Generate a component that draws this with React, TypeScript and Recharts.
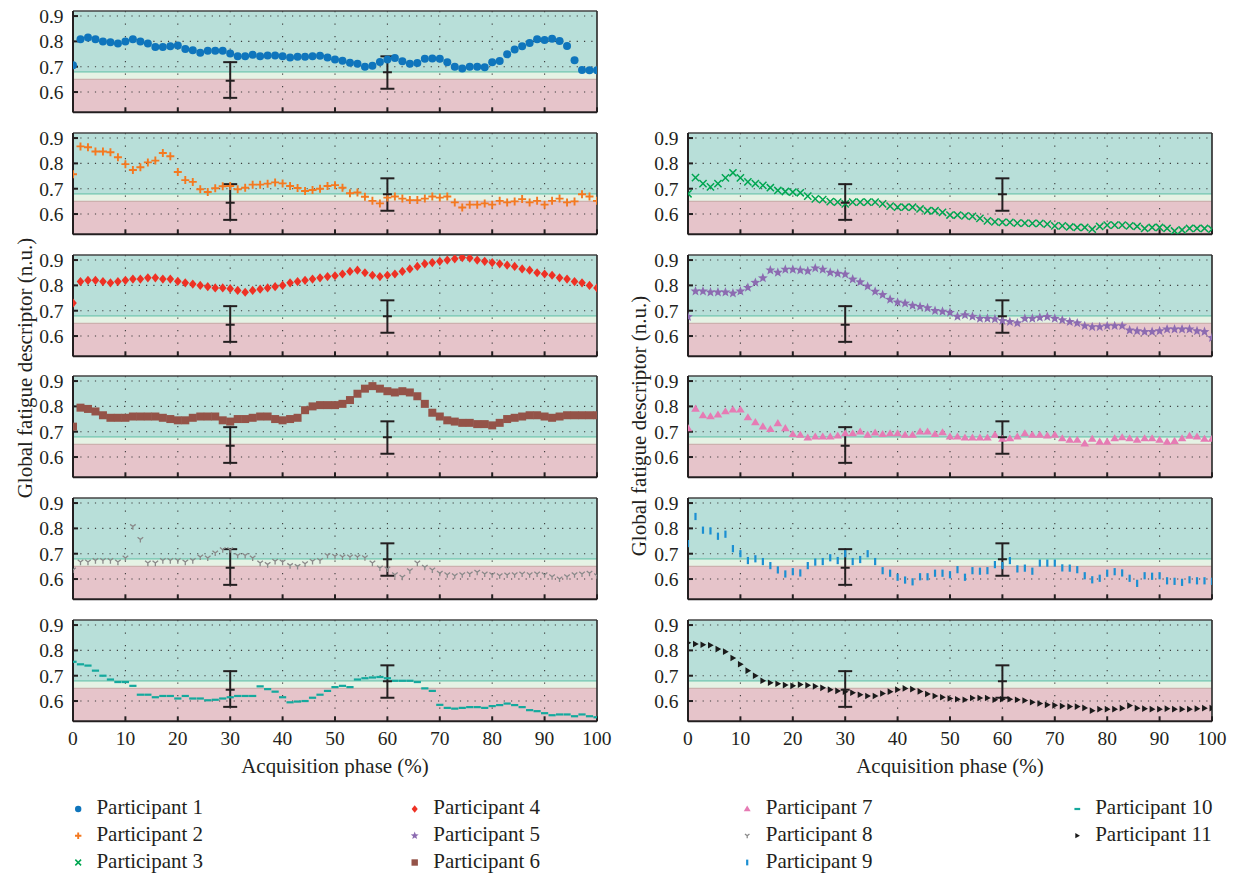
import React from 'react';
import { ComposedChart, Scatter, XAxis, YAxis, ReferenceArea, ReferenceLine, ErrorBar } from 'recharts';

// ---------- data ----------
const PHASE = Array.from({ length: 71 }, (_, i) => (i * 100) / 70);
const X_TICKS = [0, 10, 20, 30, 40, 50, 60, 70, 80, 90, 100];
const Y_TICKS = [0.6, 0.7, 0.8, 0.9];
const Y_DOMAIN = [0.52, 0.92];
const GRID_X = [10, 20, 30, 40, 50, 60, 70, 80, 90];
const BAND_HIGH = 0.68;
const BAND_LOW = 0.65;

const ERR_X = [30, 60];
const ERR_LOW = [0.577, 0.613];
const ERR_MID = [0.645, 0.678];
const ERR_HIGH = [0.718, 0.741];

const P1 = [0.706, 0.808, 0.815, 0.808, 0.80, 0.797, 0.792, 0.80, 0.808, 0.80, 0.792, 0.778, 0.778, 0.781, 0.784, 0.77, 0.765, 0.755, 0.763, 0.763, 0.763, 0.752, 0.741, 0.741, 0.747, 0.741, 0.744, 0.744, 0.741, 0.736, 0.739, 0.739, 0.741, 0.743, 0.736, 0.728, 0.724, 0.716, 0.712, 0.70, 0.704, 0.719, 0.728, 0.734, 0.722, 0.712, 0.715, 0.731, 0.732, 0.731, 0.718, 0.70, 0.693, 0.70, 0.70, 0.698, 0.718, 0.723, 0.749, 0.768, 0.781, 0.794, 0.808, 0.805, 0.81, 0.802, 0.782, 0.726, 0.687, 0.686, 0.686];
const P2 = [0.757, 0.867, 0.864, 0.847, 0.847, 0.844, 0.824, 0.797, 0.774, 0.785, 0.804, 0.811, 0.841, 0.828, 0.766, 0.734, 0.727, 0.698, 0.687, 0.702, 0.71, 0.711, 0.698, 0.704, 0.716, 0.716, 0.72, 0.725, 0.721, 0.711, 0.703, 0.691, 0.695, 0.70, 0.711, 0.714, 0.704, 0.682, 0.685, 0.668, 0.652, 0.642, 0.665, 0.669, 0.661, 0.655, 0.655, 0.661, 0.669, 0.665, 0.669, 0.646, 0.626, 0.637, 0.637, 0.642, 0.637, 0.652, 0.646, 0.65, 0.659, 0.646, 0.652, 0.637, 0.652, 0.661, 0.646, 0.65, 0.678, 0.669, 0.652];
const P3 = [0.68, 0.744, 0.72, 0.707, 0.72, 0.743, 0.763, 0.743, 0.727, 0.72, 0.713, 0.704, 0.693, 0.689, 0.687, 0.684, 0.671, 0.66, 0.657, 0.649, 0.647, 0.64, 0.647, 0.647, 0.647, 0.647, 0.64, 0.631, 0.627, 0.627, 0.627, 0.62, 0.613, 0.613, 0.607, 0.596, 0.596, 0.593, 0.591, 0.583, 0.573, 0.569, 0.567, 0.567, 0.564, 0.564, 0.563, 0.563, 0.56, 0.553, 0.553, 0.549, 0.547, 0.547, 0.54, 0.551, 0.556, 0.556, 0.556, 0.553, 0.551, 0.543, 0.547, 0.547, 0.543, 0.533, 0.537, 0.543, 0.543, 0.543, 0.54];
const P4 = [0.73, 0.815, 0.82, 0.82, 0.815, 0.81, 0.815, 0.82, 0.825, 0.825, 0.83, 0.83, 0.825, 0.825, 0.816, 0.81, 0.805, 0.80, 0.795, 0.79, 0.79, 0.787, 0.78, 0.773, 0.78, 0.785, 0.79, 0.795, 0.80, 0.81, 0.815, 0.82, 0.825, 0.83, 0.835, 0.838, 0.845, 0.855, 0.86, 0.85, 0.84, 0.835, 0.84, 0.845, 0.855, 0.865, 0.875, 0.885, 0.89, 0.895, 0.90, 0.905, 0.91, 0.908, 0.90, 0.895, 0.89, 0.885, 0.88, 0.875, 0.865, 0.86, 0.85, 0.845, 0.84, 0.83, 0.825, 0.815, 0.81, 0.80, 0.79];
const P5 = [0.676, 0.777, 0.777, 0.773, 0.773, 0.773, 0.769, 0.777, 0.791, 0.811, 0.829, 0.86, 0.851, 0.863, 0.863, 0.86, 0.857, 0.868, 0.863, 0.851, 0.847, 0.844, 0.824, 0.813, 0.796, 0.776, 0.763, 0.744, 0.733, 0.729, 0.72, 0.716, 0.711, 0.70, 0.697, 0.693, 0.677, 0.683, 0.677, 0.669, 0.669, 0.667, 0.66, 0.656, 0.651, 0.669, 0.669, 0.673, 0.676, 0.669, 0.663, 0.656, 0.651, 0.64, 0.636, 0.636, 0.64, 0.64, 0.64, 0.623, 0.62, 0.617, 0.617, 0.62, 0.627, 0.627, 0.627, 0.627, 0.62, 0.617, 0.593];
const P6 = [0.72, 0.795, 0.79, 0.78, 0.765, 0.755, 0.755, 0.755, 0.76, 0.76, 0.76, 0.76, 0.755, 0.75, 0.745, 0.745, 0.755, 0.76, 0.76, 0.76, 0.745, 0.74, 0.75, 0.75, 0.755, 0.76, 0.76, 0.75, 0.745, 0.75, 0.755, 0.785, 0.80, 0.805, 0.805, 0.805, 0.81, 0.825, 0.85, 0.87, 0.88, 0.87, 0.86, 0.855, 0.86, 0.855, 0.84, 0.81, 0.775, 0.76, 0.745, 0.74, 0.735, 0.735, 0.73, 0.73, 0.725, 0.735, 0.75, 0.755, 0.76, 0.765, 0.765, 0.76, 0.755, 0.76, 0.765, 0.765, 0.765, 0.765, 0.765];
const P7 = [0.713, 0.79, 0.764, 0.76, 0.767, 0.78, 0.787, 0.787, 0.756, 0.737, 0.72, 0.71, 0.733, 0.713, 0.69, 0.687, 0.676, 0.68, 0.68, 0.68, 0.684, 0.693, 0.693, 0.70, 0.687, 0.696, 0.69, 0.693, 0.693, 0.687, 0.687, 0.70, 0.70, 0.69, 0.697, 0.68, 0.68, 0.676, 0.676, 0.676, 0.676, 0.687, 0.671, 0.673, 0.68, 0.693, 0.687, 0.687, 0.684, 0.687, 0.673, 0.667, 0.667, 0.653, 0.671, 0.66, 0.66, 0.673, 0.677, 0.673, 0.667, 0.673, 0.673, 0.667, 0.66, 0.663, 0.673, 0.683, 0.68, 0.671, 0.671];
const P8 = [0.636, 0.667, 0.667, 0.673, 0.673, 0.673, 0.667, 0.683, 0.807, 0.756, 0.663, 0.663, 0.673, 0.673, 0.673, 0.667, 0.673, 0.687, 0.683, 0.703, 0.716, 0.716, 0.693, 0.693, 0.683, 0.663, 0.657, 0.67, 0.667, 0.653, 0.65, 0.66, 0.67, 0.673, 0.693, 0.69, 0.687, 0.687, 0.687, 0.684, 0.663, 0.644, 0.64, 0.617, 0.607, 0.633, 0.663, 0.647, 0.636, 0.623, 0.617, 0.613, 0.617, 0.62, 0.627, 0.62, 0.617, 0.613, 0.616, 0.617, 0.62, 0.617, 0.62, 0.617, 0.609, 0.60, 0.609, 0.617, 0.62, 0.623, 0.613];
const P9 = [0.74, 0.847, 0.793, 0.79, 0.769, 0.777, 0.72, 0.70, 0.673, 0.68, 0.669, 0.653, 0.636, 0.62, 0.629, 0.624, 0.653, 0.667, 0.669, 0.684, 0.673, 0.70, 0.669, 0.677, 0.70, 0.669, 0.633, 0.623, 0.607, 0.596, 0.589, 0.609, 0.609, 0.623, 0.623, 0.617, 0.637, 0.607, 0.633, 0.631, 0.633, 0.657, 0.653, 0.673, 0.64, 0.643, 0.631, 0.663, 0.663, 0.663, 0.644, 0.643, 0.637, 0.613, 0.597, 0.603, 0.623, 0.629, 0.624, 0.603, 0.583, 0.613, 0.611, 0.613, 0.593, 0.591, 0.587, 0.597, 0.593, 0.593, 0.591];
const P10 = [0.755, 0.745, 0.74, 0.72, 0.70, 0.685, 0.675, 0.675, 0.66, 0.625, 0.625, 0.615, 0.62, 0.62, 0.61, 0.62, 0.61, 0.61, 0.603, 0.605, 0.61, 0.615, 0.62, 0.62, 0.62, 0.658, 0.647, 0.637, 0.615, 0.595, 0.598, 0.60, 0.613, 0.625, 0.64, 0.655, 0.66, 0.655, 0.685, 0.69, 0.693, 0.695, 0.69, 0.68, 0.68, 0.68, 0.675, 0.65, 0.64, 0.585, 0.573, 0.57, 0.573, 0.576, 0.576, 0.573, 0.58, 0.584, 0.59, 0.584, 0.576, 0.564, 0.56, 0.552, 0.544, 0.547, 0.547, 0.54, 0.547, 0.54, 0.536];
const P11 = [0.83, 0.825, 0.822, 0.82, 0.805, 0.795, 0.77, 0.745, 0.72, 0.70, 0.68, 0.672, 0.668, 0.663, 0.66, 0.665, 0.662, 0.658, 0.652, 0.645, 0.64, 0.637, 0.633, 0.625, 0.62, 0.62, 0.63, 0.637, 0.645, 0.65, 0.647, 0.638, 0.628, 0.62, 0.615, 0.61, 0.607, 0.605, 0.612, 0.612, 0.612, 0.605, 0.607, 0.607, 0.605, 0.602, 0.595, 0.59, 0.585, 0.583, 0.58, 0.578, 0.578, 0.573, 0.562, 0.568, 0.568, 0.568, 0.572, 0.582, 0.572, 0.57, 0.568, 0.568, 0.57, 0.568, 0.568, 0.568, 0.57, 0.572, 0.572];

const NAMES = ['Participant 1', 'Participant 2', 'Participant 3', 'Participant 4', 'Participant 5', 'Participant 6', 'Participant 7', 'Participant 8', 'Participant 9', 'Participant 10', 'Participant 11'];
const VALUES = [P1, P2, P3, P4, P5, P6, P7, P8, P9, P10, P11];
const KINDS = ['circle', 'plus', 'x', 'diamond', 'star', 'square', 'triUp', 'triY', 'vbar', 'hbar', 'triRight'];
const COLORS = ['#0f75bc', '#f47920', '#00a651', '#ee3124', '#8c6bb1', '#945348', '#e67bb4', '#8a8a8a', '#1b8fd2', '#14a99d', '#1a1a1a'];
// panel placement: [column, row]
const PLACE: [number, number][] = [[0, 0], [0, 1], [1, 1], [0, 2], [1, 2], [0, 3], [1, 3], [0, 4], [1, 4], [0, 5], [1, 5]];

// ---------- style ----------
const FONT = 'Liberation Serif, DejaVu Serif, Noto Serif, serif';
const INK = '#231f20';
const TEAL = '#b8dfd9';
const LIGHT = '#e5f2e4';
const PINK = '#e6c4ca';

const PLOT_W = 524;
const PLOT_H = 101.3;
const Y_W = 60;
const MT = 4;
const MR = 22;
const COL_LEFT = [72.7, 688.3];
const ROW_TOP0 = 10.7;
const ROW_STEP = 121.9;

type MarkerProps = { kind: string; color: string; cx: number; cy: number; k?: number };

function Marker({ kind, color, cx, cy, k = 1 }: MarkerProps) {
  if (cx == null || cy == null || isNaN(cx) || isNaN(cy)) return <g />;
  switch (kind) {
    case 'circle':
      return <circle cx={cx} cy={cy} r={4 * k} fill={color} />;
    case 'plus': {
      const a = 4 * k;
      return <path d={`M${cx - a},${cy}H${cx + a}M${cx},${cy - a}V${cy + a}`} stroke={color} strokeWidth={1.9} fill="none" />;
    }
    case 'x': {
      const a = 3.6 * k;
      return <path d={`M${cx - a},${cy - a}L${cx + a},${cy + a}M${cx - a},${cy + a}L${cx + a},${cy - a}`} stroke={color} strokeWidth={1.5} fill="none" />;
    }
    case 'diamond': {
      const a = 3.8 * k, b = 4.6 * k;
      return <polygon points={`${cx},${cy - b} ${cx + a},${cy} ${cx},${cy + b} ${cx - a},${cy}`} fill={color} />;
    }
    case 'star': {
      const pts: string[] = [];
      for (let j = 0; j < 10; j++) {
        const r = (j % 2 === 0 ? 5.2 : 2.2) * k;
        const ang = -Math.PI / 2 + (j * Math.PI) / 5;
        pts.push(`${cx + r * Math.cos(ang)},${cy + r * Math.sin(ang)}`);
      }
      return <polygon points={pts.join(' ')} fill={color} />;
    }
    case 'square': {
      const a = 4 * k;
      return <rect x={cx - a} y={cy - a} width={2 * a} height={2 * a} fill={color} />;
    }
    case 'triUp': {
      const a = 4.3 * k;
      return <polygon points={`${cx},${cy - a} ${cx + a},${cy + 0.65 * a} ${cx - a},${cy + 0.65 * a}`} fill={color} />;
    }
    case 'triY': {
      const a = 2.8 * k;
      return <path d={`M${cx},${cy}V${cy + a * 1.1}M${cx},${cy}L${cx - a},${cy - a * 0.8}M${cx},${cy}L${cx + a},${cy - a * 0.8}`} stroke={color} strokeWidth={1.3} fill="none" />;
    }
    case 'vbar':
      return <rect x={cx - 1.1} y={cy - 3.6 * k} width={2.2} height={7.2 * k} fill={color} />;
    case 'hbar':
      return <rect x={cx - 3.6 * k} y={cy - 1.1} width={7.2 * k} height={2.2} fill={color} />;
    case 'triRight': {
      const a = 3.3 * k;
      return <polygon points={`${cx + a},${cy} ${cx - 0.75 * a},${cy - a} ${cx - 0.75 * a},${cy + a}`} fill={color} />;
    }
    default:
      return <g />;
  }
}

const ERR_DATA = ERR_X.map((x, i) => ({ x, y: ERR_MID[i], err: [ERR_MID[i] - ERR_LOW[i], ERR_HIGH[i] - ERR_MID[i]] }));

function MidTick(p: any) {
  if (p.cx == null || p.cy == null) return <g />;
  return <line x1={p.cx - 4.5} x2={p.cx + 4.5} y1={p.cy} y2={p.cy} stroke={INK} strokeWidth={2} />;
}

function Panel({ idx }: { idx: number }) {
  const [col, row] = PLACE[idx];
  const bottomRow = row === 5;
  const data = PHASE.map((x, i) => ({ x, y: VALUES[idx][i] }));
  const xH = bottomRow ? 56 : 3;
  const width = Y_W + PLOT_W + MR;
  const height = MT + PLOT_H + xH;
  const left = COL_LEFT[col] - Y_W - 8;
  const top = ROW_TOP0 + ROW_STEP * row - MT - 8;
  const kind = KINDS[idx];
  const color = COLORS[idx];
  return (
    <div style={{ position: 'absolute', left, top, width, height }}>
      <ComposedChart width={width} height={height} margin={{ top: MT, right: MR, bottom: 0, left: 0 }}>
        <XAxis
          type="number"
          dataKey="x"
          domain={[0, 100]}
          ticks={X_TICKS}
          interval={0}
          allowDataOverflow
          height={xH}
          tickSize={-5}
          tickMargin={14.5}
          axisLine={{ stroke: INK, strokeWidth: 2 }}
          tickLine={{ stroke: INK, strokeWidth: 2 }}
          tick={bottomRow ? { fontSize: 19.5, fontFamily: FONT, fill: INK } : () => <g />}
          label={bottomRow ? { value: 'Acquisition phase (%)', position: 'insideBottom', offset: 4, fontSize: 21, fontFamily: FONT, fill: INK } : undefined}
        />
        <YAxis
          type="number"
          dataKey="y"
          domain={Y_DOMAIN}
          ticks={Y_TICKS}
          interval={0}
          allowDataOverflow
          width={Y_W}
          tickSize={-5}
          tickMargin={14.5}
          tickFormatter={(v: number) => v.toFixed(1)}
          axisLine={{ stroke: INK, strokeWidth: 2 }}
          tickLine={{ stroke: INK, strokeWidth: 2 }}
          tick={{ fontSize: 19.5, fontFamily: FONT, fill: INK }}
        />
        <ReferenceArea y1={BAND_HIGH} y2={Y_DOMAIN[1]} fill={TEAL} fillOpacity={1} stroke="none" />
        <ReferenceArea y1={BAND_LOW} y2={BAND_HIGH} fill={LIGHT} fillOpacity={1} stroke="none" />
        <ReferenceArea y1={Y_DOMAIN[0]} y2={BAND_LOW} fill={PINK} fillOpacity={1} stroke="none" />
        <ReferenceLine y={BAND_HIGH} stroke="#6cc3ae" strokeWidth={1.3} />
        <ReferenceLine y={BAND_LOW} stroke="#cdb0ae" strokeWidth={1.3} />
        {Y_TICKS.map((v) => (
          <ReferenceLine key={'gy' + v} y={v} stroke="#3c3c3c" strokeWidth={1.1} strokeDasharray="1.2 6.1" />
        ))}
        {GRID_X.map((v) => (
          <ReferenceLine key={'gx' + v} x={v} stroke="#3c3c3c" strokeWidth={1.1} strokeDasharray="1.2 11.3" />
        ))}
        <ReferenceLine y={Y_DOMAIN[1]} stroke="#444" strokeWidth={1.7} />
        <ReferenceLine x={100} stroke="#333" strokeWidth={1.7} />
        <Scatter
          name={NAMES[idx]}
          data={data}
          isAnimationActive={false}
          shape={(p: any) => <Marker kind={kind} color={color} cx={p.cx} cy={p.cy} />}
        />
        <Scatter data={ERR_DATA} isAnimationActive={false} shape={MidTick}>
          <ErrorBar dataKey="err" direction="y" width={7} stroke={INK} strokeWidth={2} isAnimationActive={false} />
        </Scatter>
      </ComposedChart>
    </div>
  );
}

const LEGEND_MARK_X = [70.2, 406.7, 739.2, 1069.3];
const LEGEND_TEXT_X = [88.4, 425.3, 757.8, 1087.2];
const LEGEND_BASE_Y = [806, 832.7, 859.5];
const LEGEND_COL = [0, 0, 0, 1, 1, 1, 2, 2, 2, 3, 3];
const LEGEND_ROW = [0, 1, 2, 0, 1, 2, 0, 1, 2, 0, 1];

export default function App() {
  return (
    <div style={{ position: 'relative', width: 1221, height: 866, background: '#fff', fontFamily: FONT }}>
      {NAMES.map((_, i) => (
        <Panel key={i} idx={i} />
      ))}
      <svg width={1221} height={866} style={{ position: 'absolute', left: 0, top: 0, pointerEvents: 'none' }}>
        <text transform="translate(23.5,360) rotate(-90)" textAnchor="middle" fontSize={21} fontFamily={FONT} fill={INK}>
          Global fatigue descriptor (n.u.)
        </text>
        <text transform="translate(637.5,418) rotate(-90)" textAnchor="middle" fontSize={21} fontFamily={FONT} fill={INK}>
          Global fatigue descriptor (n.u.)
        </text>
        {NAMES.map((n, i) => {
          const c = LEGEND_COL[i];
          const r = LEGEND_ROW[i];
          const by = LEGEND_BASE_Y[r];
          return (
            <g key={n}>
              <Marker kind={KINDS[i]} color={COLORS[i]} cx={LEGEND_MARK_X[c]} cy={by - 5} k={0.8} />
              <text x={LEGEND_TEXT_X[c]} y={by} fontSize={21} fontFamily={FONT} fill={INK}>
                {n}
              </text>
            </g>
          );
        })}
      </svg>
    </div>
  );
}
